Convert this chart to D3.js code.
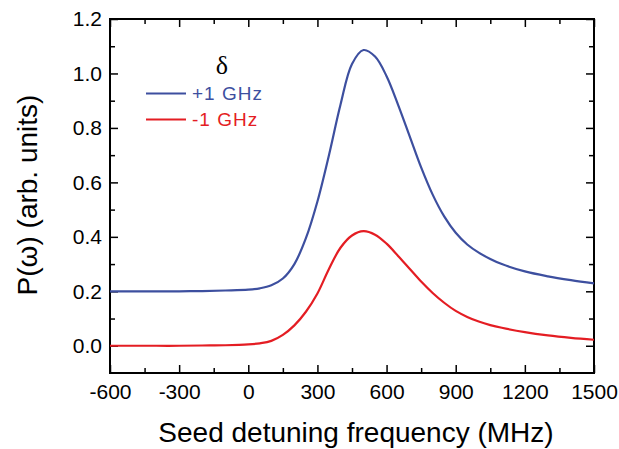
<!DOCTYPE html>
<html>
<head>
<meta charset="utf-8">
<script src="https://cdn.jsdelivr.net/npm/d3@7"></script>
<style>
  html, body { margin: 0; padding: 0; background: #fff; }
  svg { display: block; font-family: "Liberation Sans", Arial, sans-serif; }
</style>
</head>
<body>
<svg id="chart" width="619" height="449"></svg>
<script>
// ---- data ----
const detuning = [-600, -500, -400, -300, -200, -100, 0, 50, 100, 150, 200, 250, 300, 350, 400, 450, 500, 550, 600, 650, 700, 750, 800, 850, 900, 950, 1000, 1050, 1100, 1200, 1300, 1400, 1500];
const plusOneGHz = [0.200, 0.200, 0.200, 0.200, 0.201, 0.203, 0.206, 0.211, 0.222, 0.247, 0.300, 0.395, 0.530, 0.700, 0.885, 1.035, 1.086, 1.062, 0.990, 0.885, 0.770, 0.655, 0.555, 0.475, 0.415, 0.372, 0.342, 0.319, 0.300, 0.273, 0.255, 0.241, 0.229];
const minusOneGHz = [0.000, 0.000, 0.000, 0.000, 0.001, 0.002, 0.005, 0.009, 0.018, 0.040, 0.075, 0.125, 0.192, 0.282, 0.360, 0.405, 0.421, 0.408, 0.375, 0.330, 0.283, 0.236, 0.194, 0.158, 0.128, 0.106, 0.089, 0.076, 0.066, 0.050, 0.038, 0.029, 0.022];
const seriesNames = ["+1 GHz", "-1 GHz"];
const xTicks = [-600, -300, 0, 300, 600, 900, 1200, 1500];
const xMinorTicks = [-450, -150, 150, 450, 750, 1050, 1350];
const yTicks = [0.0, 0.2, 0.4, 0.6, 0.8, 1.0, 1.2];
const yMinorTicks = [0.1, 0.3, 0.5, 0.7, 0.9, 1.1];
const xTitle = "Seed detuning frequency (MHz)";
const yTitle = "P(\u03C9) (arb. units)";
const legendTitle = "\u03B4";

// ---- layout ----
const L = 110, R = 594, T = 19, B = 373;
const blue = "#3d4f9f", red = "#e41d23";
const svg = d3.select("#chart");

const x = d3.scaleLinear().domain([-600, 1500]).range([L, R]);
const y = d3.scaleLinear().domain([-0.1, 1.2]).range([B, T]);

function minorAxis(axisFn, scale, ticks, tx, ty) {
  svg.append("g").attr("transform", `translate(${tx},${ty})`)
    .call(axisFn(scale).tickValues(ticks).tickSizeInner(-5).tickSizeOuter(0).tickFormat(""))
    .call(g => g.select(".domain").remove())
    .call(g => g.selectAll("line").attr("stroke", "#000").attr("stroke-width", 1.5));
}
function majorAxis(axisFn, scale, ticks, tx, ty, fmt, pad) {
  const g = svg.append("g").attr("transform", `translate(${tx},${ty})`)
    .call(axisFn(scale).tickValues(ticks).tickSizeInner(-8).tickSizeOuter(0).tickPadding(pad).tickFormat(fmt))
    .call(g => g.select(".domain").remove())
    .call(g => g.selectAll("line").attr("stroke", "#000").attr("stroke-width", 1.5));
  g.attr("font-family", null).attr("font-size", null);
  g.selectAll("text").style("font-size", "21px").style("font-family", "'Liberation Sans', Arial, sans-serif").attr("fill", "#000");
  return g;
}
minorAxis(d3.axisBottom, x, xMinorTicks, 0, B);
minorAxis(d3.axisTop, x, xMinorTicks, 0, T);
minorAxis(d3.axisLeft, y, yMinorTicks, L, 0);
minorAxis(d3.axisRight, y, yMinorTicks, R, 0);
majorAxis(d3.axisBottom, x, xTicks, 0, B, d => String(d), 11);
majorAxis(d3.axisTop, x, xTicks, 0, T, "", 0);
majorAxis(d3.axisLeft, y, yTicks, L, 0, d3.format(".1f"), 8);
majorAxis(d3.axisRight, y, yTicks, R, 0, "", 0);

svg.append("rect").attr("x", L).attr("y", T).attr("width", R - L).attr("height", B - T)
  .attr("fill", "none").attr("stroke", "#000").attr("stroke-width", 2);

const line = vals => d3.line().x((d, i) => x(detuning[i])).y(d => y(d)).curve(d3.curveCatmullRom.alpha(0.5))(vals);
svg.append("path").attr("d", line(plusOneGHz)).attr("fill", "none").attr("stroke", blue).attr("stroke-width", 2.2);
svg.append("path").attr("d", line(minusOneGHz)).attr("fill", "none").attr("stroke", red).attr("stroke-width", 2.2);

// legend
svg.append("text").attr("x", 222).attr("y", 74).attr("text-anchor", "middle")
  .style("font-family", "'Liberation Serif', 'Times New Roman', serif").style("font-size", "26px").text(legendTitle);
const legendColors = [blue, red];
seriesNames.forEach((name, i) => {
  const ly = 93.5 + i * 26;
  svg.append("line").attr("x1", 146).attr("x2", 186).attr("y1", ly).attr("y2", ly)
    .attr("stroke", legendColors[i]).attr("stroke-width", 2);
  svg.append("text").attr("x", 192).attr("y", ly + 6.5).style("font-size", "19px")
    .attr("letter-spacing", 1).attr("fill", legendColors[i]).text(name);
});

svg.append("text").attr("x", (L + R) / 2 + 4).attr("y", 442).attr("text-anchor", "middle")
  .style("font-size", "28px").attr("fill", "#000").text(xTitle);
svg.append("text").attr("transform", "translate(37,195) rotate(-90)").attr("text-anchor", "middle")
  .style("font-size", "28px").attr("fill", "#000").text(yTitle);
</script>
</body>
</html>
